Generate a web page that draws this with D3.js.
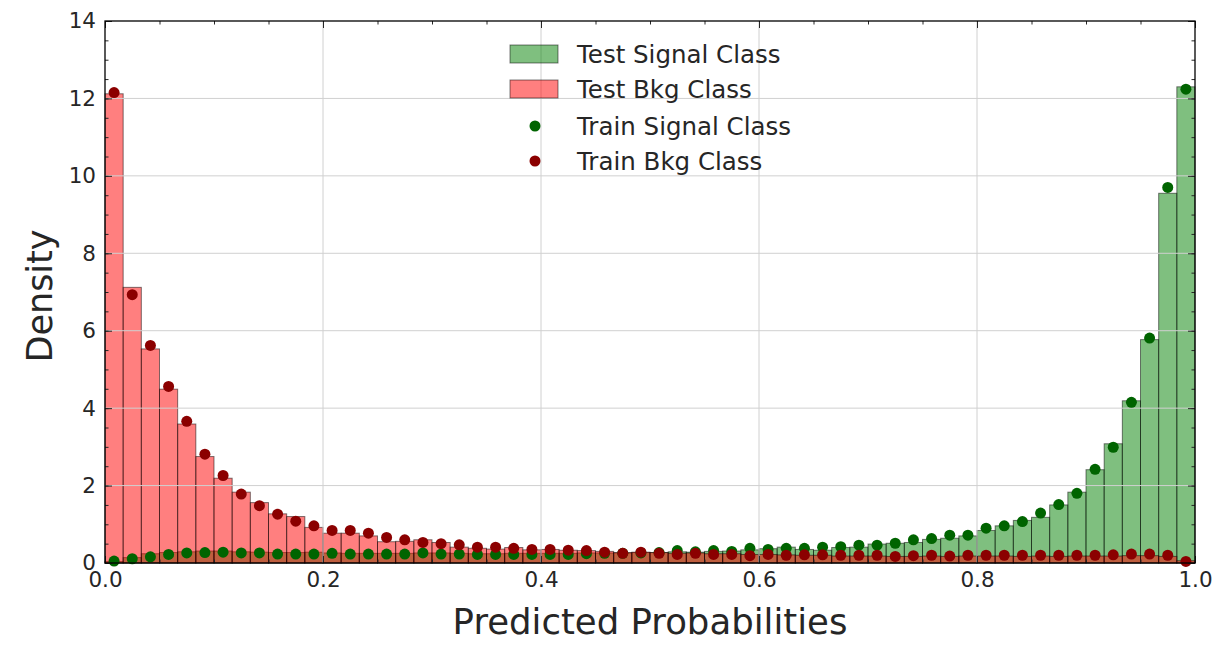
<!DOCTYPE html>
<html><head><meta charset="utf-8">
<script src="https://cdn.jsdelivr.net/npm/d3@7"></script>
<style>
body{margin:0;background:#fff;}
text{font-family:"DejaVu Sans",sans-serif;fill:#262626;}
</style></head>
<body>
<svg id="c" width="1230" height="650"></svg>
<script>
// 60 equal bins on [0, 1]
const nBins = 60;
const testSignal = [0.04,0.14,0.24,0.27,0.29,0.31,0.31,0.29,0.28,0.27,
  0.27,0.28,0.26,0.25,0.25,0.25,0.25,0.26,0.26,0.25,
  0.24,0.24,0.25,0.25,0.25,0.25,0.26,0.26,0.26,0.27,
  0.27,0.29,0.28,0.30,0.31,0.34,0.37,0.41,0.35,0.33,
  0.40,0.41,0.49,0.51,0.53,0.61,0.64,0.70,0.84,0.96,
  1.10,1.18,1.50,1.83,2.41,3.08,4.19,5.77,9.55,12.30];
const testBkg = [12.12,7.12,5.53,4.49,3.59,2.75,2.19,1.83,1.56,1.27,
  1.20,0.92,0.77,0.77,0.70,0.55,0.56,0.60,0.53,0.41,
  0.38,0.36,0.40,0.34,0.35,0.33,0.32,0.30,0.27,0.28,
  0.27,0.25,0.26,0.24,0.24,0.22,0.22,0.21,0.20,0.20,
  0.18,0.18,0.18,0.17,0.17,0.18,0.17,0.18,0.18,0.18,
  0.17,0.18,0.17,0.18,0.18,0.18,0.19,0.19,0.17,0.06];
const trainSignal = [0.05,0.11,0.16,0.22,0.26,0.27,0.28,0.26,0.26,0.23,
  0.23,0.23,0.25,0.23,0.23,0.23,0.23,0.26,0.23,0.23,
  0.22,0.22,0.22,0.22,0.22,0.22,0.24,0.25,0.25,0.26,
  0.27,0.32,0.29,0.32,0.30,0.38,0.35,0.38,0.38,0.41,
  0.42,0.46,0.46,0.51,0.60,0.63,0.72,0.72,0.90,0.96,
  1.07,1.29,1.51,1.80,2.42,2.99,4.15,5.81,9.70,12.24];
const trainBkg = [12.15,6.93,5.62,4.56,3.66,2.81,2.26,1.78,1.48,1.26,
  1.08,0.96,0.84,0.84,0.77,0.66,0.60,0.53,0.50,0.47,
  0.41,0.41,0.38,0.35,0.35,0.33,0.32,0.28,0.25,0.28,
  0.25,0.22,0.25,0.22,0.22,0.19,0.22,0.20,0.21,0.21,
  0.20,0.20,0.20,0.17,0.19,0.20,0.18,0.20,0.20,0.20,
  0.20,0.20,0.20,0.20,0.20,0.21,0.23,0.23,0.20,0.04];
const legendLabels = ["Test Signal Class","Test Bkg Class","Train Signal Class","Train Bkg Class"];
const xTicks = [0,0.2,0.4,0.6,0.8,1.0];
const yTicks = [0,2,4,6,8,10,12,14];

const svg = d3.select("#c");
const L=105, R=1195, T=21, B=563;
const x = d3.scaleLinear().domain([0,1]).range([L,R]);
const y = d3.scaleLinear().domain([0,14]).range([B,T]);
const binW = 1/nBins;

function bars(data, color){
  svg.append("g").selectAll("rect").data(data).join("rect")
    .attr("x",(d,i)=>x(i*binW)).attr("width",(d,i)=>x((i+1)*binW)-x(i*binW))
    .attr("y",d=>y(d)).attr("height",d=>y(0)-y(d))
    .attr("fill",color).attr("fill-opacity",0.5)
    .attr("stroke","#000").attr("stroke-opacity",0.5).attr("stroke-width",1);
}
bars(testSignal,"#008000");
bars(testBkg,"#ff0000");

// grid
const grid = svg.append("g").attr("stroke","#d0d0d0").attr("stroke-width",1);
xTicks.slice(1,-1).forEach(t=>grid.append("line").attr("x1",x(t)).attr("x2",x(t)).attr("y1",T).attr("y2",B));
yTicks.slice(1,-1).forEach(t=>grid.append("line").attr("x1",L).attr("x2",R).attr("y1",y(t)).attr("y2",y(t)));

function dots(data,color){
  svg.append("g").selectAll("circle").data(data).join("circle")
    .attr("cx",(d,i)=>x((i+0.5)*binW)).attr("cy",d=>y(d)).attr("r",5.5).attr("fill",color);
}
dots(trainSignal,"#006400");
dots(trainBkg,"#8b0000");

// axes with inward ticks
const fmtX = d3.format(".1f");
const minorX = d3.range(0,1.0001,0.05);
const minorY = d3.range(0,14.001,0.5);
function styleAxis(g){ g.select(".domain").remove(); g.selectAll("line").attr("stroke","#262626"); g.selectAll("text").style("font-size","21.5px").style("font-family","DejaVu Sans").attr("fill","#262626"); }
svg.append("g").attr("transform",`translate(0,${B})`).call(d3.axisBottom(x).tickValues(minorX).tickSize(-3.5).tickFormat("")).call(styleAxis);
svg.append("g").attr("transform",`translate(0,${T})`).call(d3.axisTop(x).tickValues(minorX).tickSize(-3.5).tickFormat("")).call(styleAxis);
svg.append("g").attr("transform",`translate(${L},0)`).call(d3.axisLeft(y).tickValues(minorY).tickSize(-3.5).tickFormat("")).call(styleAxis);
svg.append("g").attr("transform",`translate(${R},0)`).call(d3.axisRight(y).tickValues(minorY).tickSize(-3.5).tickFormat("")).call(styleAxis);
svg.append("g").attr("transform",`translate(0,${B})`).call(d3.axisBottom(x).tickValues(xTicks).tickSize(-7).tickPadding(9).tickFormat(fmtX)).call(styleAxis);
svg.append("g").attr("transform",`translate(0,${T})`).call(d3.axisTop(x).tickValues(xTicks).tickSize(-7).tickFormat("")).call(styleAxis);
svg.append("g").attr("transform",`translate(${L},0)`).call(d3.axisLeft(y).tickValues(yTicks).tickSize(-7).tickPadding(9).tickFormat(d3.format("d"))).call(styleAxis);
svg.append("g").attr("transform",`translate(${R},0)`).call(d3.axisRight(y).tickValues(yTicks).tickSize(-7).tickFormat("")).call(styleAxis);

// frame
svg.append("rect").attr("x",L).attr("y",T).attr("width",R-L).attr("height",B-T)
  .attr("fill","none").attr("stroke","#000").attr("stroke-width",1.3);

// axis labels
svg.append("text").attr("x",650).attr("y",634).attr("text-anchor","middle").style("font-size","35.5px").text("Predicted Probabilities");
svg.append("text").attr("transform",`translate(52,${296}) rotate(-90)`).attr("text-anchor","middle").style("font-size","35px").text("Density");

// legend
const lg = svg.append("g");
const rowY = [54,89,126,161];
const kinds = [["rect","#008000"],["rect","#ff0000"],["dot","#006400"],["dot","#8b0000"]];
kinds.forEach((k,i)=>{
  if(k[0]==="rect"){
    lg.append("rect").attr("x",510).attr("y",rowY[i]-9).attr("width",48).attr("height",18)
      .attr("fill",k[1]).attr("fill-opacity",0.5).attr("stroke","#000").attr("stroke-opacity",0.5);
  } else {
    lg.append("circle").attr("cx",535).attr("cy",rowY[i]).attr("r",5.5).attr("fill",k[1]);
  }
  lg.append("text").attr("x",577).attr("y",rowY[i]+9).style("font-size","24.5px").text(legendLabels[i]);
});
</script>
</body></html>
